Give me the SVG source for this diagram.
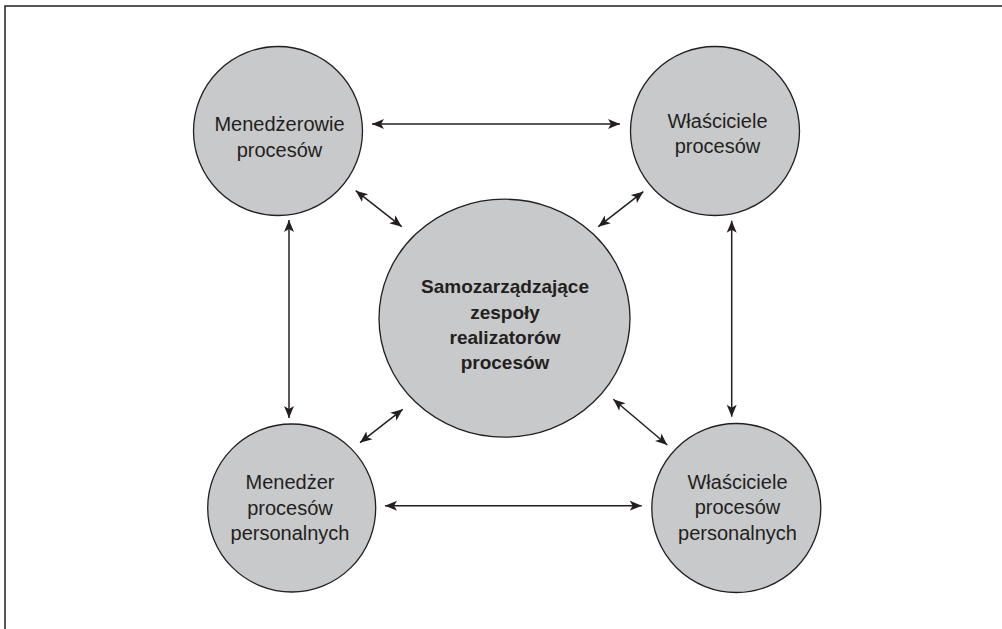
<svg xmlns="http://www.w3.org/2000/svg" width="1002" height="629" viewBox="0 0 1002 629">
  <style>
    .node { fill: #c8c9cb; stroke: #231f20; stroke-width: 1.3; }
    .lbl { font-family: "Liberation Sans", Arial, sans-serif; font-size: 20px; fill: #231f20; text-anchor: middle; }
    .lbl-b { font-family: "Liberation Sans", Arial, sans-serif; font-size: 19px; font-weight: bold; fill: #231f20; text-anchor: middle; }
    .conn { stroke: #231f20; stroke-width: 1.5; fill: none; marker-start: url(#head); marker-end: url(#head); }
    .frame { stroke: #231f20; stroke-width: 1.5; fill: none; }
  </style>
  <defs>
    <marker id="head" markerUnits="userSpaceOnUse" markerWidth="14" markerHeight="12" refX="12" refY="5" orient="auto-start-reverse" viewBox="0 0 14 10">
      <path d="M0,0 L12,5 L0,10 L3,5 z" fill="#231f20"/>
    </marker>
  </defs>

  <rect width="1002" height="629" fill="#ffffff"/>
  <!-- frame: top and left edges -->
  <path class="frame" d="M5,629 L5,6 L1002,6"/>

  <!-- connectors -->
  <g id="connectors">
    <line class="conn" x1="372" y1="124" x2="620" y2="124"/>
    <line class="conn" x1="385" y1="505.7" x2="641.7" y2="505.7"/>
    <line class="conn" x1="289" y1="220" x2="289" y2="418"/>
    <line class="conn" x1="731.7" y1="220.7" x2="731.7" y2="416.7"/>
    <line class="conn" x1="355.7" y1="190.7" x2="401.7" y2="226.7"/>
    <line class="conn" x1="643.3" y1="191.7" x2="598.3" y2="226.7"/>
    <line class="conn" x1="360" y1="442.7" x2="402.7" y2="409.3"/>
    <line class="conn" x1="613.3" y1="399.3" x2="667.3" y2="445"/>
  </g>

  <g id="menedzerowie-procesow">
    <circle class="node" cx="278" cy="131" r="84.5"/>
    <text class="lbl" x="279.5" y="131">Menedżerowie</text>
    <text class="lbl" x="279.5" y="157">procesów</text>
  </g>

  <g id="wlasciciele-procesow">
    <circle class="node" cx="715" cy="131" r="84.5"/>
    <text class="lbl" x="717.5" y="128">Właściciele</text>
    <text class="lbl" x="717.5" y="153">procesów</text>
  </g>

  <g id="zespoly-realizatorow">
    <ellipse class="node" cx="504.5" cy="318.2" rx="125.5" ry="119"/>
    <text class="lbl-b" x="505" y="293.3">Samozarządzające</text>
    <text class="lbl-b" x="505" y="318.7">zespoły</text>
    <text class="lbl-b" x="505" y="344">realizatorów</text>
    <text class="lbl-b" x="505" y="369.3">procesów</text>
  </g>

  <g id="menedzer-procesow-personalnych">
    <circle class="node" cx="291.7" cy="508" r="84"/>
    <text class="lbl" x="290" y="489.3">Menedżer</text>
    <text class="lbl" x="290" y="514.5">procesów</text>
    <text class="lbl" x="290" y="540">personalnych</text>
  </g>

  <g id="wlasciciele-procesow-personalnych">
    <circle class="node" cx="736.3" cy="508" r="84.5"/>
    <text class="lbl" x="737.5" y="489">Właściciele</text>
    <text class="lbl" x="737.5" y="514.3">procesów</text>
    <text class="lbl" x="737.5" y="540">personalnych</text>
  </g>
</svg>
